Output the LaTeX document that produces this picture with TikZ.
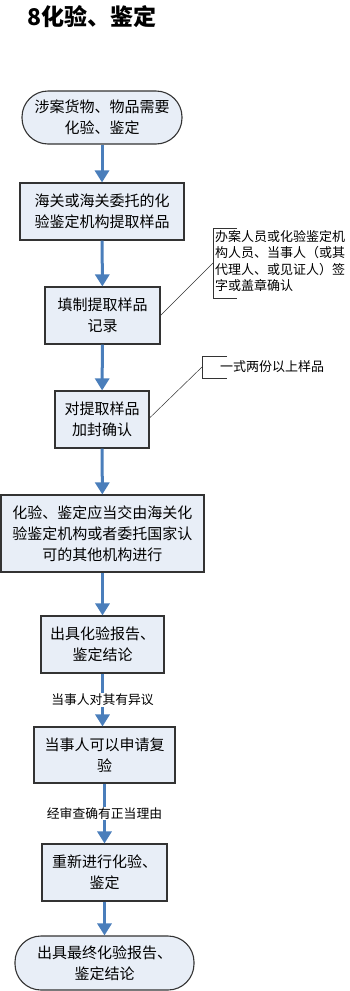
\documentclass[tikz,border=0pt]{standalone}
\usepackage{fontspec}
\setmainfont{Noto Sans CJK SC}
\usepackage{tikz}
\usetikzlibrary{arrows.meta,calc,positioning}

\definecolor{boxfill}{HTML}{E8EEF7}
\definecolor{flowblue}{HTML}{4A7EBB}

\begin{document}
\begin{tikzpicture}[
  x=1pt, y=-1pt,
  obj/.style={draw=black!80, line width=1.1pt, fill=boxfill, align=center, inner sep=0pt,
    font=\fontsize{15}{21}\selectfont},
  stepbox/.style={obj, rectangle},
  endbox/.style={obj, rectangle, rounded corners=26pt},
  arr/.style={-{Triangle[width=14pt,length=12pt]}, line width=3pt, draw=flowblue},
  lbl/.style={fill=white, inner sep=1pt, font=\fontsize{12.8}{15}\selectfont},
  note/.style={align=left, inner sep=0pt, font=\fontsize{13}{16.5}\selectfont},
  bracket/.style={draw=black!80, line width=0.8pt},
  pointer/.style={draw=black!80, line width=0.5pt}
]
\useasboundingbox (0,0) rectangle (349,991);

% title
\node[anchor=west, font=\fontsize{23}{26}\selectfont\bfseries] (title) at (24,17) {8化验、鉴定};

% flow
\node[endbox, minimum width=160pt, minimum height=53pt] (n1) at (102,117.5) {涉案货物、物品需要\\化验、鉴定};
\node[stepbox, minimum width=164pt, minimum height=57pt] (n2) at (102,211.5) {海关或海关委托的化\\验鉴定机构提取样品};
\node[stepbox, minimum width=115pt, minimum height=57pt] (n3) at (102.5,315.5) {填制提取样品\\记录};
\node[stepbox, minimum width=94pt, minimum height=57pt] (n4) at (102,419.5) {对提取样品\\加封确认};
\node[stepbox, minimum width=203pt, minimum height=77pt] (n5) at (102.5,533.5) {化验、鉴定应当交由海关化\\验鉴定机构或者委托国家认\\可的其他机构进行};
\node[stepbox, minimum width=123pt, minimum height=57pt] (n6) at (102.5,644.5) {出具化验报告、\\鉴定结论};
\node[stepbox, minimum width=141pt, minimum height=56pt] (n7) at (104.5,755) {当事人可以申请复\\验};
\node[stepbox, minimum width=125pt, minimum height=57pt] (n8) at (104.5,872.5) {重新进行化验、\\鉴定};
\node[endbox, minimum width=179pt, minimum height=54pt] (n9) at (104.5,963) {出具最终化验报告、\\鉴定结论};

\draw[arr] (n1) -- (n2);
\draw[arr] (n2) -- (n3);
\draw[arr] (n3) -- (n4);
\draw[arr] (n4) -- (n5);
\draw[arr] (n5) -- (n6);
\draw[arr] (n6.south) -- node[lbl] (q1) {当事人对其有异议} (n7.north -| n6.south);
\draw[arr] (n7) -- node[lbl] (q2) {经审查确有正当理由} (n8);
\draw[arr] (n8) -- (n9);

% notes
\coordinate (c1) at (213,263);
\draw[bracket] (237,228) -- (213,228) -- (213,298) -- (237,298);
\node[note, anchor=north west] (t1) at (215,230) {办案人员或化验鉴定机\\构人员、当事人（或其\\代理人、或见证人）签\\字或盖章确认};
\draw[pointer] (n3.east) -- (c1);

\coordinate (c2) at (202,367);
\draw[bracket] (227,356) -- (202,356) -- (202,378) -- (227,378);
\node[note, anchor=west] (t2) at (220,367) {一式两份以上样品};
\draw[pointer] ($(n4.east)+(0,-1.5)$) -- (c2);
\end{tikzpicture}
\end{document}
